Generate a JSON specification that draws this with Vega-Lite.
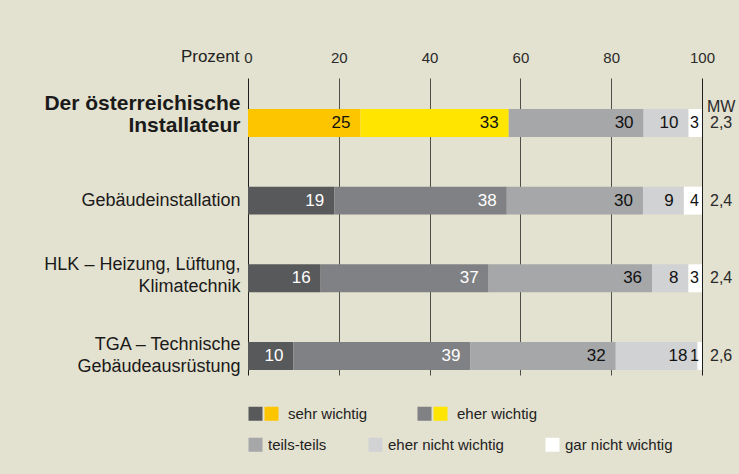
{
  "$schema": "https://vega.github.io/schema/vega-lite/v6.json",
  "autosize": {"type": "none"},
  "width": 454,
  "height": 297,
  "padding": {"left": 248, "top": 78, "right": 37, "bottom": 99},
  "background": "#e3e1cf",
  "config": {
    "view": {"stroke": null},
    "font": "Liberation Sans",
    "locale": {"number": {"decimal": ",", "thousands": ".", "grouping": [3], "currency": ["", " €"]}},
    "legend": {"layout": {"bottom": {"anchor": "start", "direction": "vertical", "margin": 15}}}
  },
  "datasets": {
    "bars": [
      {"item": "Der österreichische Installateur", "cat": "sehr wichtig", "value": 25},
      {"item": "Der österreichische Installateur", "cat": "eher wichtig", "value": 33},
      {"item": "Der österreichische Installateur", "cat": "teils-teils", "value": 30},
      {"item": "Der österreichische Installateur", "cat": "eher nicht wichtig", "value": 10},
      {"item": "Der österreichische Installateur", "cat": "gar nicht wichtig", "value": 3},
      {"item": "Gebäudeinstallation", "cat": "sehr wichtig", "value": 19},
      {"item": "Gebäudeinstallation", "cat": "eher wichtig", "value": 38},
      {"item": "Gebäudeinstallation", "cat": "teils-teils", "value": 30},
      {"item": "Gebäudeinstallation", "cat": "eher nicht wichtig", "value": 9},
      {"item": "Gebäudeinstallation", "cat": "gar nicht wichtig", "value": 4},
      {"item": "HLK – Heizung, Lüftung, Klimatechnik", "cat": "sehr wichtig", "value": 16},
      {"item": "HLK – Heizung, Lüftung, Klimatechnik", "cat": "eher wichtig", "value": 37},
      {"item": "HLK – Heizung, Lüftung, Klimatechnik", "cat": "teils-teils", "value": 36},
      {"item": "HLK – Heizung, Lüftung, Klimatechnik", "cat": "eher nicht wichtig", "value": 8},
      {"item": "HLK – Heizung, Lüftung, Klimatechnik", "cat": "gar nicht wichtig", "value": 3},
      {"item": "TGA – Technische Gebäudeausrüstung", "cat": "sehr wichtig", "value": 10},
      {"item": "TGA – Technische Gebäudeausrüstung", "cat": "eher wichtig", "value": 39},
      {"item": "TGA – Technische Gebäudeausrüstung", "cat": "teils-teils", "value": 32},
      {"item": "TGA – Technische Gebäudeausrüstung", "cat": "eher nicht wichtig", "value": 18},
      {"item": "TGA – Technische Gebäudeausrüstung", "cat": "gar nicht wichtig", "value": 1}
    ],
    "mw": [
      {"item": "Der österreichische Installateur", "mw": 2.3},
      {"item": "Gebäudeinstallation", "mw": 2.4},
      {"item": "HLK – Heizung, Lüftung, Klimatechnik", "mw": 2.4},
      {"item": "TGA – Technische Gebäudeausrüstung", "mw": 2.6}
    ]
  },
  "data": {"name": "bars"},
  "transform": [
    {"calculate": "indexof(['sehr wichtig','eher wichtig','teils-teils','eher nicht wichtig','gar nicht wichtig'], datum.cat)", "as": "idx"},
    {"calculate": "datum.item === 'Der österreichische Installateur' && datum.idx < 2 ? 'hl ' + datum.cat : datum.cat", "as": "ckey"},
    {"stack": "value", "groupby": ["item"], "sort": [{"field": "idx", "order": "ascending"}], "offset": "normalize", "as": ["x0", "x1"]}
  ],
  "encoding": {
    "y": {
      "field": "item",
      "type": "nominal",
      "sort": ["Der österreichische Installateur", "Gebäudeinstallation", "HLK – Heizung, Lüftung, Klimatechnik", "TGA – Technische Gebäudeausrüstung"],
      "scale": {"paddingInner": 0.64, "paddingOuter": 0.232, "align": 0.86},
      "axis": {
        "title": null,
        "domain": false,
        "ticks": false,
        "labelPadding": 8,
        "labelLimit": 400,
        "labelColor": "#1a1a1a",
        "labelLineHeight": 22,
        "labelFontSize": {"condition": {"test": "datum.value === 'Der österreichische Installateur'", "value": 21}, "value": 18},
        "labelFontWeight": {"condition": {"test": "datum.value === 'Der österreichische Installateur'", "value": "bold"}, "value": "normal"},
        "labelOffset": {
          "condition": [
            {"test": "datum.value === 'Der österreichische Installateur'", "value": -19},
            {"test": "datum.value === 'HLK – Heizung, Lüftung, Klimatechnik'", "value": -13},
            {"test": "datum.value === 'TGA – Technische Gebäudeausrüstung'", "value": -11}
          ],
          "value": 0
        },
        "labelExpr": "datum.value === 'Der österreichische Installateur' ? ['Der österreichische', 'Installateur'] : datum.value === 'HLK – Heizung, Lüftung, Klimatechnik' ? ['HLK – Heizung, Lüftung,', 'Klimatechnik'] : datum.value === 'TGA – Technische Gebäudeausrüstung' ? ['TGA – Technische', 'Gebäudeausrüstung'] : datum.label"
      }
    }
  },
  "layer": [
    {
      "mark": {"type": "bar"},
      "encoding": {
        "x": {
          "field": "x0",
          "type": "quantitative",
          "scale": {"domain": [0, 1], "nice": false},
          "axis": {
            "orient": "top",
            "values": [0, 0.2, 0.4, 0.6, 0.8, 1],
            "labelExpr": "format(datum.value * 100, 'd')",
            "title": "Prozent",
            "titleX": -9,
            "titleY": -22,
            "titleAlign": "right",
            "titleAnchor": "start",
            "titleBaseline": "middle",
            "titleAngle": 0,
            "titleFontSize": 17,
            "titleFontWeight": "normal",
            "titleColor": "#222222",
            "grid": true,
            "gridColor": {"condition": {"test": "datum.value === 0 || datum.value === 1", "value": "#1e1e1e"}, "value": "#4f4f4a"},
            "gridOpacity": 1,
            "gridWidth": 1,
            "domain": false,
            "ticks": false,
            "tickSize": 0,
            "labelPadding": 21,
            "labelBaseline": "middle",
            "labelFlush": false,
            "labelOverlap": false,
            "labelBound": false,
            "labelFontSize": 15,
            "labelColor": "#2a2a2a"
          }
        },
        "x2": {"field": "x1"},
        "color": {
          "field": "ckey",
          "type": "nominal",
          "scale": {
            "domain": ["hl sehr wichtig", "hl eher wichtig", "sehr wichtig", "eher wichtig", "teils-teils", "eher nicht wichtig", "gar nicht wichtig"],
            "range": ["#fdc400", "#ffe500", "#58595b", "#808184", "#a6a7a9", "#d1d2d3", "#ffffff"]
          },
          "legend": null
        }
      }
    },
    {
      "transform": [{"filter": "datum.idx < 4"}],
      "mark": {"type": "text", "align": "right", "baseline": "middle", "dx": -10, "fontSize": 17},
      "encoding": {
        "x": {"field": "x1", "type": "quantitative"},
        "text": {"field": "value", "type": "quantitative"},
        "color": {"condition": {"test": "datum.idx < 2 && datum.item !== 'Der österreichische Installateur'", "value": "#ffffff"}, "value": "#111111"}
      }
    },
    {
      "transform": [{"filter": "datum.idx === 4"}],
      "mark": {"type": "text", "align": "right", "baseline": "middle", "dx": -3, "fontSize": 16, "color": "#111111"},
      "encoding": {
        "x": {"field": "x1", "type": "quantitative"},
        "text": {"field": "value", "type": "quantitative"}
      }
    },
    {
      "data": {"name": "mw"},
      "mark": {"type": "text", "align": "left", "baseline": "middle", "dx": 8, "fontSize": 16, "color": "#2a2a2a"},
      "encoding": {
        "x": {"datum": 1, "type": "quantitative"},
        "text": {"field": "mw", "type": "quantitative", "format": ".1f"}
      }
    },
    {
      "data": {"name": "mw"},
      "transform": [{"filter": "datum.item === 'Der österreichische Installateur'"}],
      "mark": {"type": "text", "align": "left", "baseline": "middle", "dx": 5, "dy": -16, "fontSize": 16, "color": "#2a2a2a"},
      "encoding": {
        "x": {"datum": 1, "type": "quantitative"},
        "text": {"value": "MW"}
      }
    },
    {
      "transform": [{"filter": "false"}],
      "mark": {"type": "point", "filled": true},
      "encoding": {
        "shape": {
          "field": "cat",
          "type": "nominal",
          "scale": {"domain": ["sehr wichtig", "eher wichtig"], "range": ["M-1,-1H1V1H-1Z M1.286,-1H3.286V1H1.286Z", "M-1,-1H1V1H-1Z M1.286,-1H3.286V1H1.286Z"]},
          "legend": {
            "title": null,
            "orient": "bottom",
            "direction": "horizontal",
            "offset": 31,
            "symbolSize": 196,
            "symbolStrokeWidth": 0,
            "symbolOpacity": 1,
            "labelOffset": 25,
            "columnPadding": 49,
            "labelFontSize": 15,
            "labelColor": "#222222",
            "encoding": {
              "symbols": {
                "fill": {
                  "condition": {"test": "datum.label === 'sehr wichtig'", "value": {"gradient": "linear", "x1": 0, "y1": 0, "x2": 1, "y2": 0, "stops": [{"offset": 0, "color": "#58595b"}, {"offset": 0.5, "color": "#58595b"}, {"offset": 0.5, "color": "#fdc400"}, {"offset": 1, "color": "#fdc400"}]}},
                  "value": {"gradient": "linear", "x1": 0, "y1": 0, "x2": 1, "y2": 0, "stops": [{"offset": 0, "color": "#808184"}, {"offset": 0.5, "color": "#808184"}, {"offset": 0.5, "color": "#ffe500"}, {"offset": 1, "color": "#ffe500"}]}
                },
                "opacity": {"value": 1}
              }
            }
          }
        }
      }
    },
    {
      "transform": [{"filter": "false"}],
      "mark": {"type": "point", "filled": true},
      "encoding": {
        "fill": {
          "field": "cat",
          "type": "nominal",
          "scale": {"domain": ["teils-teils", "eher nicht wichtig", "gar nicht wichtig"], "range": ["#a6a7a9", "#d1d2d3", "#ffffff"]},
          "legend": {
            "title": null,
            "orient": "bottom",
            "direction": "horizontal",
            "symbolType": "square",
            "symbolSize": 196,
            "symbolStrokeWidth": 0,
            "symbolOpacity": 1,
            "labelOffset": 5,
            "columnPadding": 41,
            "labelFontSize": 15,
            "labelColor": "#222222"
          }
        }
      }
    }
  ]
}
